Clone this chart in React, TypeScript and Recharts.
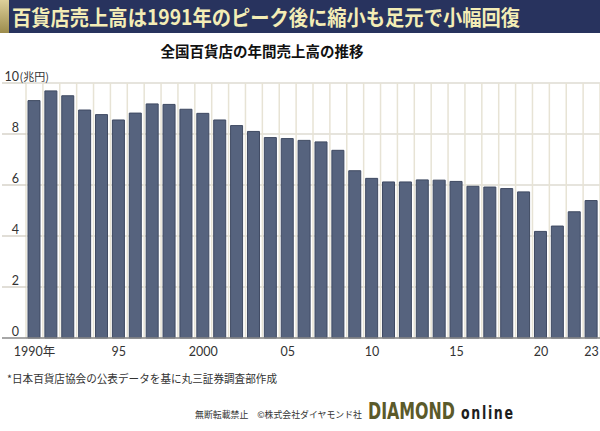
import { BarChart, Bar, XAxis, YAxis, CartesianGrid } from 'recharts'

// 全国百貨店の年間売上高（兆円）
const years = [
  '1990', '1991', '1992', '1993', '1994', '1995', '1996', '1997', '1998', '1999',
  '2000', '2001', '2002', '2003', '2004', '2005', '2006', '2007', '2008', '2009',
  '2010', '2011', '2012', '2013', '2014', '2015', '2016', '2017', '2018', '2019',
  '2020', '2021', '2022', '2023',
]
const sales = [
  9.31, 9.69, 9.5, 8.94, 8.76, 8.55, 8.82, 9.18, 9.16, 8.97,
  8.81, 8.55, 8.33, 8.1, 7.86, 7.82, 7.75, 7.69, 7.36, 6.56,
  6.26, 6.12, 6.12, 6.2, 6.19, 6.14, 5.95, 5.92, 5.86, 5.73,
  4.18, 4.39, 4.95, 5.39,
]
const yTicks = [0, 2, 4, 6, 8, 10]
const xLabels: Record<string, string> = {
  '1990': '1990年',
  '1995': '95',
  '2000': '2000',
  '2005': '05',
  '2010': '10',
  '2015': '15',
  '2020': '20',
  '2023': '23',
}

const title = '百貨店売上高は1991年のピーク後に縮小も足元で小幅回復'
const subtitle = '全国百貨店の年間売上高の推移'
const source = '*日本百貨店協会の公表データを基に丸三証券調査部作成'
const copyright = '無断転載禁止　©株式会社ダイヤモンド社'

const data = years.map((year, i) => ({ year, value: sales[i] }))

const JP = "'Noto Sans CJK JP', sans-serif"
const NUM = "Lato, 'Noto Sans CJK JP', sans-serif"

function YTick(props: any) {
  const { y, payload } = props
  const v = payload.value
  return (
    <g>
      <line x1={2} x2={26} y1={y} y2={y} stroke={v === 0 ? '#8a8a8a' : '#cdc9bc'} strokeWidth={v === 0 ? 1.5 : 1.2} />
      <text x={19} y={y - 2.5} textAnchor="end" fontSize={12.5} fill="#333" fontFamily={NUM}>
        {v}
      </text>
      {v === 10 && (
        <text x={19.5} y={y - 2.5} fontSize={11} fill="#333" fontFamily={JP}>
          (兆円)
        </text>
      )}
    </g>
  )
}

function XTick(props: any) {
  const { x, y, payload } = props
  const label = xLabels[payload.value]
  if (!label) return null
  return (
    <text x={x} y={y + 18} textAnchor="middle" fontSize={12.5} fill="#333" fontFamily={NUM}>
      {label}
    </text>
  )
}

export default function App() {
  return (
    <div style={{ position: 'absolute', left: 0, top: 0, width: 600, height: 431, background: '#fff', overflow: 'hidden' }}>
      <BarChart width={600} height={431} data={data} margin={{ top: 83, right: 0, left: 0, bottom: 0 }}>
        <CartesianGrid vertical={false} stroke="#cdc9bc" strokeWidth={1.2} />
        <CartesianGrid
          horizontal={false}
          stroke="#e7e3d5"
          strokeWidth={1.5}
          verticalCoordinatesGenerator={({ offset }: any) =>
            years.map((_, i) => offset.left + (i * offset.width) / years.length).concat(offset.left + offset.width)
          }
        />
        <XAxis
          dataKey="year"
          interval={0}
          tickLine={false}
          tickSize={0}
          tickMargin={0}
          height={93}
          axisLine={{ stroke: '#8a8a8a', strokeWidth: 1.5 }}
          tick={<XTick />}
        />
        <YAxis
          width={26}
          domain={[0, 10]}
          ticks={yTicks}
          axisLine={false}
          tickLine={false}
          tickSize={0}
          tick={<YTick />}
        />
        <Bar dataKey="value" fill="#56637e" stroke="#3f4a62" strokeWidth={1} barSize={12} isAnimationActive={false} />
      </BarChart>

      <svg width={600} height={431} style={{ position: 'absolute', left: 0, top: 0, pointerEvents: 'none' }}>
        <defs>
          <linearGradient id="gold" x1="0" y1="0" x2="0" y2="1">
            <stop offset="0" stopColor="#ddd09a" />
            <stop offset="1" stopColor="#9c8c4c" />
          </linearGradient>
        </defs>
        <rect x={0} y={0} width={600} height={33} fill="#28335e" />
        <rect x={0} y={0} width={9} height={33} fill="url(#gold)" />
        <text
          x={12}
          y={25}
          fontSize={21}
          fontWeight="bold"
          fill="#f4edb6"
          fontFamily={JP}
          textLength={508}
          lengthAdjust="spacingAndGlyphs"
        >
          {title}
        </text>
        <text x={262} y={57} textAnchor="middle" fontSize={14.5} fontWeight="bold" fill="#111" fontFamily={JP}>
          {subtitle}
        </text>
        <text x={7} y={383} fontSize={11} fill="#333" fontFamily={JP} textLength={270} lengthAdjust="spacingAndGlyphs">
          {source}
        </text>
        <text x={195} y={418} fontSize={9} fill="#333" fontFamily={JP} textLength={167} lengthAdjust="spacingAndGlyphs">
          {copyright}
        </text>
        <g transform="translate(368,419) scale(1,1.35)">
          <text
            x={0}
            y={0}
            fontSize={17}
            fontWeight="bold"
            fill="#5b5a2a"
            fontFamily="'DejaVu Sans Condensed', 'DejaVu Sans', sans-serif"
            textLength={87}
            lengthAdjust="spacingAndGlyphs"
          >
            DIAMOND
          </text>
        </g>
        <g transform="translate(461,419) scale(1,1.3)">
          <text
            x={0}
            y={0}
            fontSize={14}
            fontWeight="bold"
            fill="#1e1e1e"
            fontFamily="'DejaVu Sans Condensed', 'DejaVu Sans', sans-serif"
            textLength={52}
            lengthAdjust="spacing"
          >
            online
          </text>
        </g>
      </svg>
    </div>
  )
}
